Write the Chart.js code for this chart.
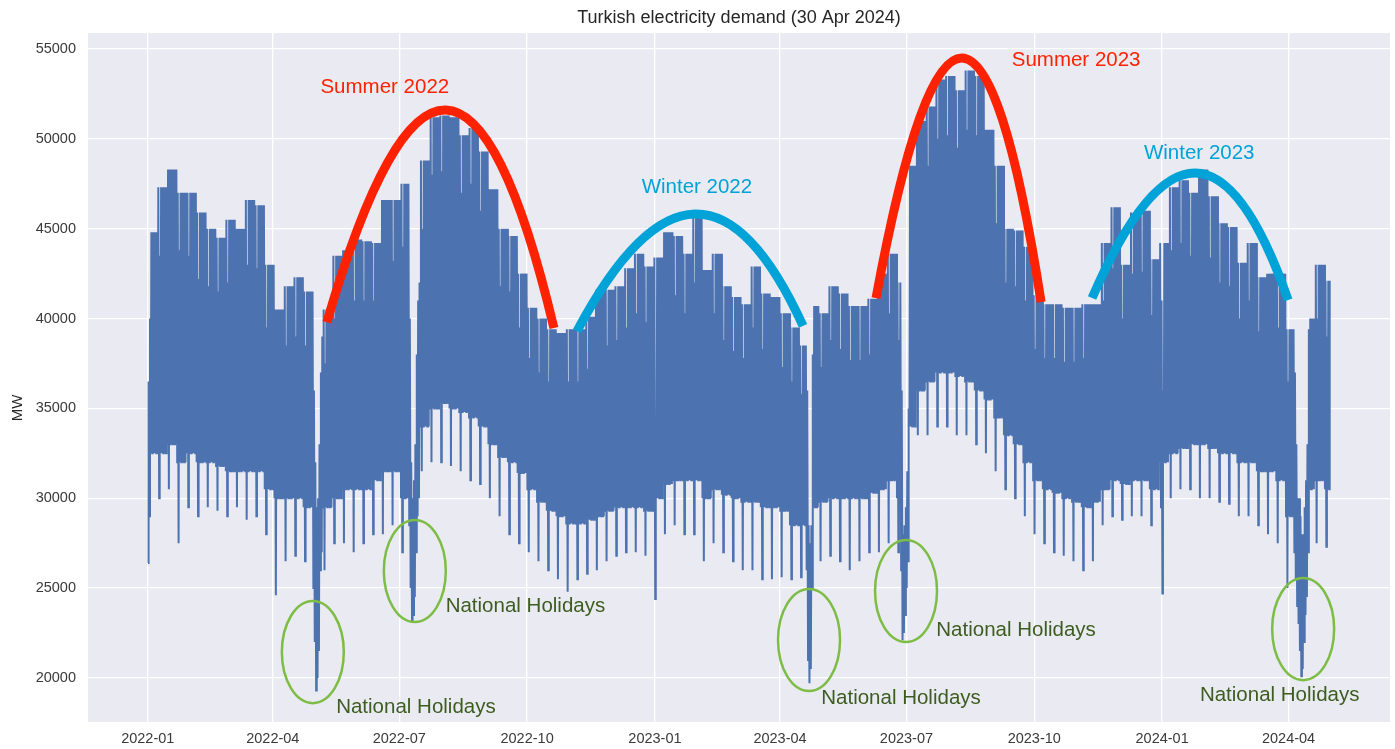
<!DOCTYPE html>
<html><head><meta charset="utf-8">
<script src="https://cdn.jsdelivr.net/npm/chart.js@4.4.1/dist/chart.umd.min.js"></script>
<style>html,body{margin:0;padding:0;background:#fff;}#wrap{width:1395px;height:749px;position:relative;}</style>
</head><body><div id="wrap"><canvas id="c"></canvas></div>
<script>
const FONT = '"Liberation Sans", Arial, Helvetica, sans-serif';

// Day 0 = 2022-01-01 (Saturday). Weeks of 7 days starting on Saturday; Sunday = 2nd day.
const weekHigh = [44800,47300,48300,47000,47000,45900,45000,44500,45500,45000,46600,46300,43000,40500,41800,42300,41500,37500,40500,43500,
43800,44400,44300,44200,46600,46600,47500,41200,48800,51200,51300,51200,50200,50600,49300,47200,45000,44600,42500,40600,
40000,39400,39200,39400,39400,40100,41600,41600,41800,42800,43600,42900,43400,44800,44600,43600,45800,42700,43600,41800,
41200,40800,42900,41400,41200,40300,39500,38500,40700,40300,41800,41400,40700,40700,41100,42500,43600,42000,48500,51000,
51800,53300,53500,52700,53800,53500,50500,48500,45000,44900,44000,41300,40800,40800,40600,40600,40800,40800,44200,46200,
43000,45900,46000,43300,44200,47300,47700,47000,48300,46800,45300,45100,43100,44200,42300,42500,42500,39400,39000,40000,
43000,42100];
const weekSundayHigh = [40000,43500,44000,43800,43500,42200,41800,41500,42000,41500,43000,42800,39500,36500,38500,39000,38500,34000,37500,40000,
40500,41000,41000,41000,43000,43200,44000,38000,45000,48000,48200,48000,47000,47500,46000,44000,41800,41500,39500,37800,
37000,36500,36500,36500,36500,37200,38500,38500,38800,39500,40300,39800,34000,41500,41300,40300,42000,39500,40300,38800,
38200,37800,39500,38300,38200,37300,36500,35800,37500,37300,38800,38300,37700,37700,38000,39300,40300,38800,45000,47800,
48500,50000,50200,49500,50500,50200,47300,45300,42000,41800,41000,38300,37800,37800,37600,37600,37800,37800,41000,42800,
40000,42500,42600,40200,41000,43800,44200,43500,44800,43400,42000,41800,40000,41000,39300,39500,39500,36500,36000,37000,
40000,39000];
const weekLow = [32500,32500,33000,32000,32500,32000,32000,31800,31500,31500,31500,31500,30500,30000,30000,30000,29500,28000,29500,30000,
30500,30500,30500,31000,31500,31500,30000,30000,34000,35000,35300,35000,34800,34500,34000,33000,32300,32000,31400,30500,
29800,29300,29000,28600,28600,28800,29000,29300,29500,29500,29500,29300,30000,30800,31000,31000,31000,30000,30500,30200,
30000,29800,29800,29500,29500,29300,28500,28500,29500,29800,30000,30000,30000,30000,30300,30500,31000,30000,34000,36000,
36500,37000,37000,36800,36500,36000,35500,34500,33500,33000,32000,31000,30500,30300,30000,29800,29500,29800,30500,31000,
30800,31000,31000,30500,32000,32500,32800,33000,33000,32800,32500,32500,32000,32000,31500,31500,31000,29000,29000,30500,
31000,30500];
const weekSundayLow = [29000,30000,30500,27500,29500,29000,29500,29300,29000,29500,28800,29000,28000,24600,26500,26800,26500,25000,26000,27500,
27500,27000,27500,28000,28000,28500,27000,27000,31500,32000,32000,31800,31500,31000,30800,30000,29000,28000,27500,27000,
26500,26000,25500,24800,25500,25800,26000,26500,26800,27000,27000,26800,24400,28000,28500,28000,28000,26500,27500,27000,
26500,26000,26000,25500,25500,25600,25500,25600,26000,26500,26800,26500,26000,26500,27000,27000,27500,27000,31000,33500,
33500,34000,34000,33500,33500,33000,32500,31500,30500,30000,29000,28000,27500,27000,26800,26500,26000,26500,28500,29000,
28800,29000,29000,28500,29500,30000,30500,30500,30000,30000,29800,29700,29000,29000,28500,28000,27500,25000,25000,27500,
27500,27300];
// National holidays / New Year: day index, daily low, daily high
const holidayDay  = [0, 119,120,121,122,123,124,125, 188,189,190,191,192,193,194,195, 365, 474,475,476,477,478, 542,543,544,545,546,547, 730, 825,826,827,828,829,830,831,832,833,834,835];
const holidayLow  = [26400, 25000,22000,19300,20000,21500,26000,27000, 28500,25000,23200,23500,24500,27000,29000,30000, 24400, 26000,21000,19700,20500,25000, 26000,22100,22500,23500,25000,26500, 24700, 27000,25500,24000,23000,21500,20100,20500,22000,23500,24500,27000];
const holidayHigh = [36500, 36000,32000,29500,30000,33000,37000,39000, 40000,32000,30000,31000,33000,38000,41000,42000, 34000, 36000,28500,27500,28500,38000, 36000,28000,28500,29500,31500,35000, 36000, 37000,33000,30000,30000,29000,28000,28000,29500,31000,33000,39400];
const dayCount = 851; // 2022-01-01 .. 2024-04-30

const xTickDays = [0,90,181,273,365,455,546,638,730,821];
const xTickLabels = ['2022-01','2022-04','2022-07','2022-10','2023-01','2023-04','2023-07','2023-10','2024-01','2024-04'];
const yTicks = [20000,25000,30000,35000,40000,45000,50000,55000];

// annotations in data coordinates (day, MW)
const seasonArcs = [
  {text:'Summer 2022', color:'#ff2200', p0:[128.9,39800], apex:[214.5,51600], p2:[292.3,39470], label:[170.6,52885]},
  {text:'Winter 2022', color:'#00a3d7', p0:[308.9,39300], apex:[393.8,45820], p2:[471.6,39590], label:[395.2,47320]},
  {text:'Summer 2023', color:'#ff2200', p0:[524.1,41140], apex:[586.0,54500], p2:[642.9,40920], label:[668.1,54390]},
  {text:'Winter 2023', color:'#00a3d7', p0:[679.6,41140], apex:[753.8,48100], p2:[820.7,41030], label:[756.7,49210]}
];
const holidayMarks = [
  {c:[118.8,21440], t:[193.0,18380]},
  {c:[192.2,25950], t:[271.8,24000]},
  {c:[475.9,22110], t:[542.1,18880]},
  {c:[545.7,24840], t:[624.9,22670]},
  {c:[831.5,22720], t:[814.6,19050]}
];

const holMap = {};
holidayDay.forEach((d,i)=>{ holMap[d] = [holidayLow[i], holidayHigh[i]]; });
const points = [];
for (let d = 0; d < dayCount; d++) {
  const k = Math.floor(d/7), dow = d % 7;
  let lo = dow === 1 ? weekSundayLow[k] : weekLow[k];
  let hi = dow === 1 ? weekSundayHigh[k] : weekHigh[k];
  if (holMap[d]) { lo = holMap[d][0]; hi = holMap[d][1]; }
  points.push({x: d + 0.2, y: lo});
  points.push({x: d + 0.6, y: hi});
}

const bgPlugin = {
  id:'bg',
  beforeDraw(chart){
    const {ctx, chartArea:a} = chart;
    ctx.save(); ctx.fillStyle = '#eaeaf2';
    ctx.fillRect(a.left, a.top, a.right-a.left, a.bottom-a.top); ctx.restore();
  }
};
const annPlugin = {
  id:'ann',
  afterDatasetsDraw(chart){
    const {ctx} = chart; const xs = chart.scales.x, ys = chart.scales.y;
    const P = (p)=>[xs.getPixelForValue(p[0]), ys.getPixelForValue(p[1])];
    ctx.save();
    seasonArcs.forEach(a=>{
      const p0=P(a.p0), ap=P(a.apex), p2=P(a.p2);
      const cx = 2*ap[0]-0.5*(p0[0]+p2[0]), cy = 2*ap[1]-0.5*(p0[1]+p2[1]);
      ctx.beginPath(); ctx.moveTo(p0[0],p0[1]); ctx.quadraticCurveTo(cx,cy,p2[0],p2[1]);
      ctx.strokeStyle=a.color; ctx.lineWidth=9; ctx.lineCap='butt'; ctx.stroke();
      const l=P(a.label);
      ctx.fillStyle=a.color; ctx.font='20.5px '+FONT; ctx.textAlign='center'; ctx.textBaseline='middle';
      ctx.fillText(a.text, l[0], l[1]);
    });
    holidayMarks.forEach(h=>{
      const c=P(h.c);
      const rx = xs.getPixelForValue(h.c[0]+22.3)-c[0];
      const ry = ys.getPixelForValue(h.c[1]-2840)-c[1];
      ctx.beginPath(); ctx.ellipse(c[0],c[1],rx,ry,0,0,Math.PI*2);
      ctx.strokeStyle='#7dbd45'; ctx.lineWidth=2.5; ctx.stroke();
      const t=P(h.t);
      ctx.fillStyle='#3d5c1f'; ctx.font='20.5px '+FONT; ctx.textAlign='center'; ctx.textBaseline='middle';
      ctx.fillText('National Holidays', t[0], t[1]);
    });
    ctx.restore();
  },
  afterDraw(chart){
    const {ctx, chartArea:a} = chart;
    ctx.save();
    ctx.fillStyle='#262626'; ctx.font='18px '+FONT; ctx.textAlign='center'; ctx.textBaseline='middle';
    ctx.fillText('Turkish electricity demand (30 Apr 2024)', (a.left+a.right)/2, 18);
    ctx.translate(18, 408); ctx.rotate(-Math.PI/2);
    ctx.font='15px '+FONT; ctx.fillText('MW', 0, 0);
    ctx.restore();
  }
};

new Chart(document.getElementById('c'), {
  type:'line',
  data:{ datasets:[{ data: points, borderColor:'#4c72b0', borderWidth:2, pointRadius:0, tension:0, fill:false }]},
  options:{
    responsive:true, maintainAspectRatio:false, animation:false, parsing:false, normalized:true,
    layout:{ padding:{ left:0, right:5, top:33, bottom:0 } },
    plugins:{ legend:{display:false}, title:{display:false}, tooltip:{enabled:false} },
    scales:{
      x:{ type:'linear', min:-43, max:894,
        afterBuildTicks(s){ s.ticks = xTickDays.map(v=>({value:v})); },
        afterFit(s){ s.height = 27; },
        ticks:{ callback:(v)=>{ const i = xTickDays.indexOf(v); return i>=0 ? xTickLabels[i] : ''; },
          font:{family:FONT, size:14.5}, color:'#3a3a3a', padding:8, maxRotation:0, autoSkip:false },
        grid:{ color:'#ffffff', lineWidth:1.3, drawTicks:false }, border:{display:false} },
      y:{ type:'linear', min:17550, max:55890,
        afterBuildTicks(s){ s.ticks = yTicks.map(v=>({value:v})); },
        afterFit(s){ s.width = 88; },
        ticks:{ callback:(v)=>String(v), font:{family:FONT, size:14.5}, color:'#3a3a3a', padding:12 },
        grid:{ color:'#ffffff', lineWidth:1.3, drawTicks:false }, border:{display:false} }
    }
  },
  plugins:[bgPlugin, annPlugin]
});
</script></body></html>
